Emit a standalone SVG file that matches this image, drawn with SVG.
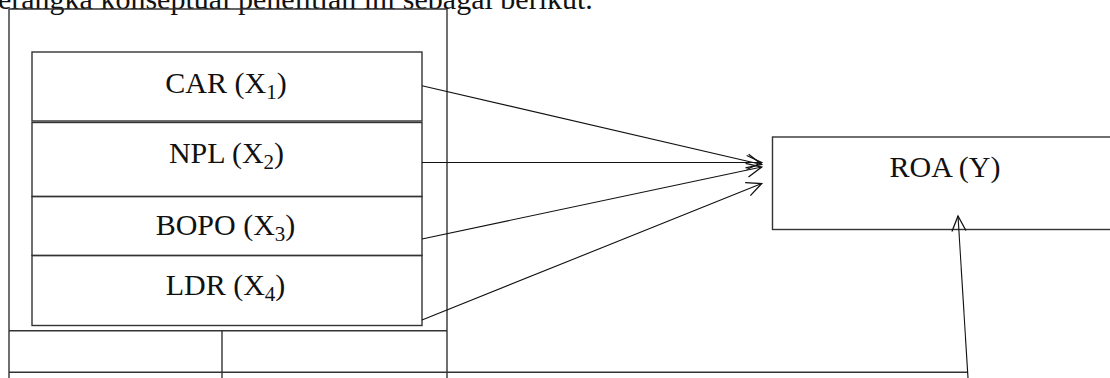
<svg xmlns="http://www.w3.org/2000/svg" width="1110" height="378" viewBox="0 0 1110 378">
  <style>
    .box { fill: none; stroke: #333; stroke-width: 1.4; }
    .ln { fill: none; stroke: #333; stroke-width: 1.4; }
    .arr { fill: none; stroke: #111; stroke-width: 1.1; }
    .t { font-family: "Liberation Serif", "Times New Roman", serif; font-size: 30px; fill: #111; }
    .sub { font-size: 21px; }
  </style>
  <defs>
    <marker id="open" markerUnits="userSpaceOnUse" markerWidth="20" markerHeight="20" refX="16" refY="8" orient="auto" viewBox="0 0 20 16">
      <path d="M1,1 L16,8 L1,15" fill="none" stroke="#111" stroke-width="1.3"/>
    </marker>
  </defs>
  <rect width="1110" height="378" fill="#fff"/>

  <text class="t" x="-17" y="9">kerangka konseptual penelitian ini sebagai berikut.</text>

  <g id="frame">
    <line class="ln" x1="9" y1="9" x2="447" y2="9"/>
    <line class="ln" x1="9" y1="9" x2="9" y2="378"/>
    <line class="ln" x1="447" y1="9" x2="447" y2="378"/>
    <line class="ln" x1="9" y1="330.7" x2="447" y2="330.7"/>
    <line class="ln" x1="222" y1="330.7" x2="222" y2="378"/>
  </g>

  <g id="car">
    <rect class="box" x="32" y="52" width="390" height="69"/>
    <text class="t" x="226" y="93" text-anchor="middle">CAR (X<tspan class="sub" dy="6">1</tspan><tspan dy="-6">)</tspan></text>
  </g>
  <g id="npl">
    <rect class="box" x="32" y="122.5" width="390" height="74"/>
    <text class="t" x="226.5" y="163" text-anchor="middle">NPL (X<tspan class="sub" dy="6">2</tspan><tspan dy="-6">)</tspan></text>
  </g>
  <g id="bopo">
    <rect class="box" x="32" y="196.5" width="390" height="59"/>
    <text class="t" x="225.5" y="235" text-anchor="middle">BOPO (X<tspan class="sub" dy="6">3</tspan><tspan dy="-6">)</tspan></text>
  </g>
  <g id="ldr">
    <rect class="box" x="32" y="255.5" width="390" height="70"/>
    <text class="t" x="225.5" y="295" text-anchor="middle">LDR (X<tspan class="sub" dy="6">4</tspan><tspan dy="-6">)</tspan></text>
  </g>

  <g id="roa">
    <rect class="box" x="772.5" y="137" width="360" height="92.5"/>
    <text class="t" x="945" y="176.7" text-anchor="middle">ROA (Y)</text>
  </g>

  <g id="connectors">
    <line class="arr" x1="422" y1="85.7" x2="761.7" y2="164.5" marker-end="url(#open)"/>
    <line class="arr" x1="422" y1="162.5" x2="761.7" y2="162.5" marker-end="url(#open)"/>
    <line class="arr" x1="422" y1="239" x2="761.7" y2="167" marker-end="url(#open)"/>
    <line class="arr" x1="422" y1="320" x2="761.7" y2="183.5" marker-end="url(#open)"/>
    <line class="ln" x1="9" y1="372.3" x2="968" y2="372.3"/>
    <line class="arr" x1="968" y1="378" x2="958" y2="216" marker-end="url(#open)"/>
  </g>
</svg>
